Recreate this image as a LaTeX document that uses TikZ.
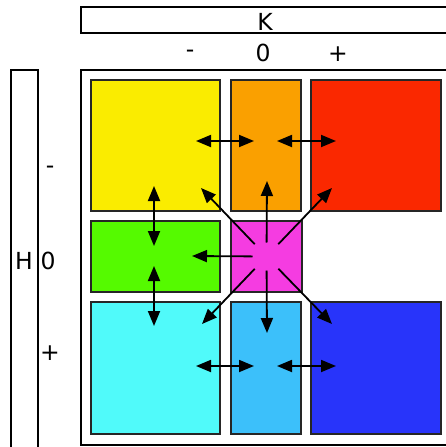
\documentclass[tikz,border=0pt]{standalone}
\usepackage{fontspec}
\setmainfont{DejaVu Sans}
\usetikzlibrary{arrows.meta}
\definecolor{cyel}{RGB}{250,236,0}
\definecolor{cora}{RGB}{250,160,0}
\definecolor{cred}{RGB}{250,40,0}
\definecolor{cgre}{RGB}{85,250,0}
\definecolor{cmag}{RGB}{245,60,225}
\definecolor{ccya}{RGB}{80,250,250}
\definecolor{clbl}{RGB}{60,192,250}
\definecolor{cblu}{RGB}{40,52,250}
\tikzset{
  frame/.style={draw=black, line width=1.3pt},
  cell/.style={draw=black!85, line width=1.6pt, inner sep=0pt},
  lbl/.style={font=\fontsize{23.5}{25}\selectfont, inner sep=0pt},
  arr/.style={line width=1.8pt, -{Triangle[length=15pt,width=12pt]}},
  darr/.style={line width=1.8pt, {Triangle[length=15pt,width=12pt]}-{Triangle[length=15pt,width=12pt]}}
}
\begin{document}
\begin{tikzpicture}[x=1pt,y=-1pt]
\useasboundingbox (0,0) rectangle (445,447);
\fill[white] (0,0) rectangle (445,447);
% frames
\draw[frame] (81,7) rectangle (450,33);
\draw[frame] (81,70) rectangle (450,445);
\draw[frame] (11,70) rectangle (38,452);
\node[lbl] (K) at (265,22) {K};
\node[lbl] (km) at (190,54) {-};
\node[lbl] (k0) at (263,53) {0};
\node[lbl] (kp) at (338,54) {+};
\node[lbl] (H) at (24,261) {H};
\node[lbl] (hm) at (50,170) {-};
\node[lbl] (h0) at (48,261) {0};
\node[lbl] (hp) at (50,353) {+};
% cells
\node[cell, fill=cyel, minimum width=129pt, minimum height=131pt] (yel) at (155.5,145.5) {};
\node[cell, fill=cora, minimum width=70pt, minimum height=131pt] (ora) at (266,145.5) {};
\node[cell, fill=cred, minimum width=130pt, minimum height=131pt] (red) at (376,145.5) {};
\node[cell, fill=cgre, minimum width=129pt, minimum height=71pt] (gre) at (155.5,256.5) {};
\node[cell, fill=cmag, minimum width=71pt, minimum height=71pt] (mag) at (266.5,256.5) {};
\node[cell, fill=ccya, minimum width=129pt, minimum height=132pt] (cya) at (155.5,368) {};
\node[cell, fill=clbl, minimum width=70pt, minimum height=132pt] (lbl) at (266,368) {};
\node[cell, fill=cblu, minimum width=130pt, minimum height=132pt] (blu) at (376,368) {};
% arrow end coordinates
\coordinate (h1a) at (196,141); \coordinate (h1b) at (254,141);
\coordinate (h2a) at (277,141); \coordinate (h2b) at (336,141);
\coordinate (h3a) at (196,366); \coordinate (h3b) at (254,366);
\coordinate (h4a) at (277,366); \coordinate (h4b) at (336,366);
\coordinate (v1a) at (154,186); \coordinate (v1b) at (154,246);
\coordinate (v2a) at (154,266); \coordinate (v2b) at (154,326);
\coordinate (eu) at (267,181);
\coordinate (el) at (192,256);
\coordinate (eul) at (201,188);
\coordinate (eur) at (332,188);
\coordinate (edl) at (202,324);
\coordinate (ed) at (267,333);
\coordinate (edr) at (332,324);
% double arrows
\draw[darr] (h1a) -- (h1b);
\draw[darr] (h2a) -- (h2b);
\draw[darr] (h3a) -- (h3b);
\draw[darr] (h4a) -- (h4b);
\draw[darr] (v1a) -- (v1b);
\draw[darr] (v2a) -- (v2b);
% radial arrows
\draw[arr, shorten <=14pt] (mag.center) -- (eu);
\draw[arr, shorten <=14pt] (mag.center) -- (el);
\draw[arr, shorten <=14pt] (mag.center) -- (ed);
\draw[arr, shorten <=17pt] (mag.center) -- (eul);
\draw[arr, shorten <=17pt] (mag.center) -- (eur);
\draw[arr, shorten <=17pt] (mag.center) -- (edl);
\draw[arr, shorten <=17pt] (mag.center) -- (edr);
\end{tikzpicture}
\end{document}
